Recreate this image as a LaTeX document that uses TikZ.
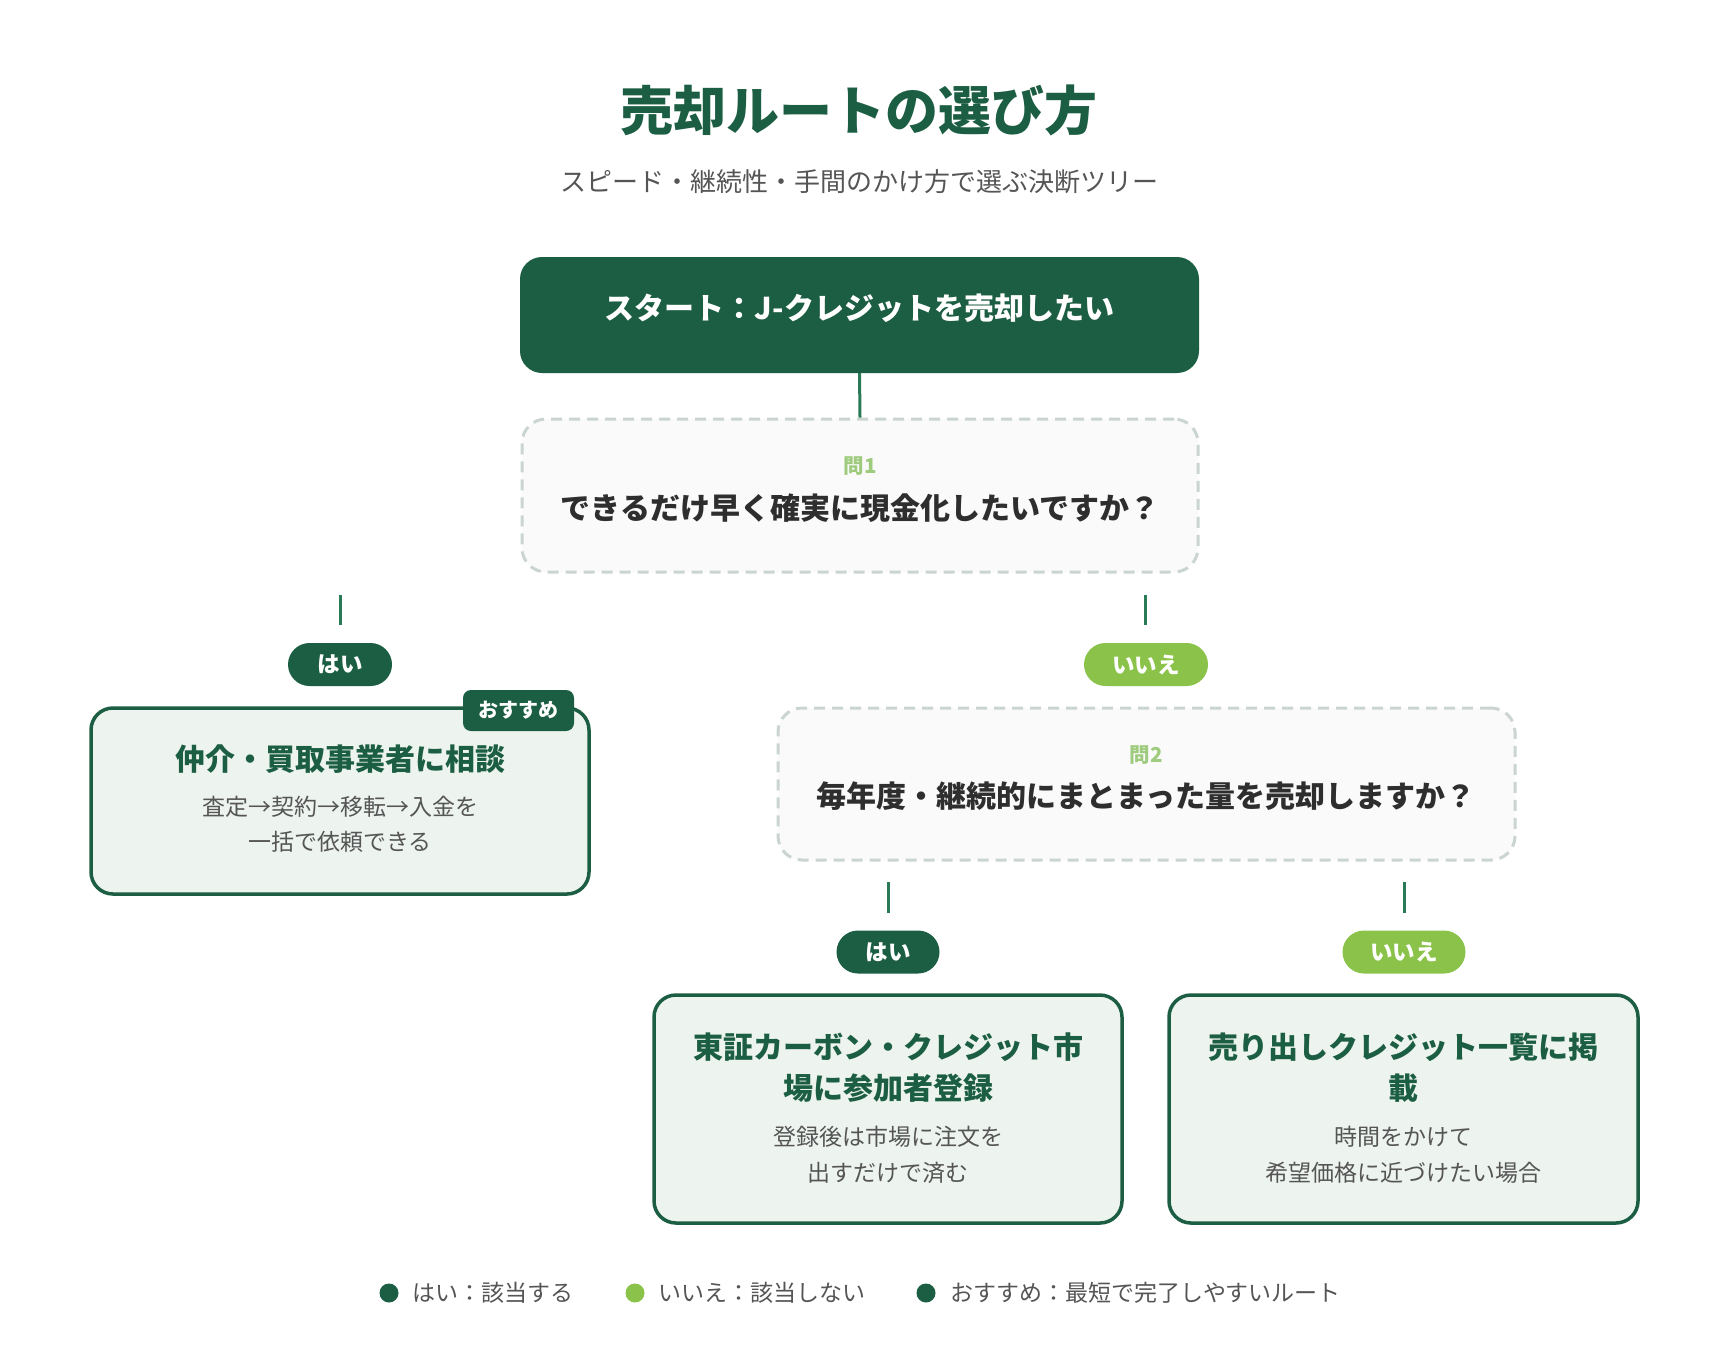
\documentclass[tikz,border=0pt]{standalone}
\usepackage{fontspec}
\setmainfont{Noto Sans CJK JP}
\usetikzlibrary{calc}
\definecolor{dg}{HTML}{1C5E43}
\definecolor{lg}{HTML}{8BC34A}
\definecolor{qlab}{HTML}{9FCB7E}
\definecolor{fillg}{HTML}{EDF3EF}
\definecolor{dashc}{HTML}{CBD5D0}
\definecolor{qfill}{HTML}{FAFAFA}
\definecolor{txt}{HTML}{2E2E2E}
\definecolor{subc}{HTML}{555555}
\definecolor{conn}{HTML}{2A7A57}
\newcommand{\fs}[1]{\fontsize{#1}{#1}\selectfont}
\tikzset{
  startbox/.style={draw=none, fill=dg, rounded corners=22pt, inner sep=0pt},
  qbox/.style={draw=dashc, fill=qfill, line width=3pt, dash pattern=on 11pt off 7pt, rounded corners=24pt, inner sep=0pt},
  resbox/.style={draw=dg, fill=fillg, line width=3.5pt, rounded corners=22pt, inner sep=0pt},
  badge/.style={fill=dg, rounded corners=8pt, inner sep=0pt, minimum width=111pt, minimum height=41pt, text=white, font=\fs{20}\bfseries},
  yespill/.style={fill=dg, rounded corners=21.5pt, inner sep=0pt, minimum height=43pt, text=white, font=\fs{22.5}\bfseries},
  nopill/.style={fill=lg, rounded corners=21.5pt, inner sep=0pt, minimum height=43pt, text=white, font=\fs{22.5}\bfseries},
  conline/.style={draw=conn, line width=3pt},
  qlabel/.style={text=qlab, font=\fs{20.5}\bfseries, inner sep=0pt},
  qtext/.style={text=txt, font=\fs{30}\bfseries, inner sep=0pt},
  rtitle/.style={text=dg, font=\fs{30}\bfseries, inner sep=0pt},
  rdesc/.style={text=subc, font=\fs{23}, inner sep=0pt},
  legtext/.style={text=subc, font=\fs{23}, inner sep=0pt, anchor=west},
}
\begin{document}
\begin{tikzpicture}[x=1pt,y=-1pt]
\fill[white] (0,0) rectangle (1720,1366);
\useasboundingbox (0,0) rectangle (1720,1366);

% title
\node[text=dg, font=\fs{53}\bfseries, inner sep=0pt] (title) at (859,110) {売却ルートの選び方};
\node[text=subc, font=\fs{26}, inner sep=0pt] (subtitle) at (859,182) {スピード・継続性・手間のかけ方で選ぶ決断ツリー};

% start
\node[startbox, minimum width=679pt, minimum height=116pt] (start) at (859.5,315) {};
\node[text=white, font=\fs{30}\bfseries, inner sep=0pt] (starttext) at (859.5,308) {スタート：J-クレジットを売却したい};

% question 1
\node[qbox, minimum width=676pt, minimum height=153pt] (q1) at (860,495.5) {};
\node[qlabel] (q1lab) at (860,466) {問1};
\node[qtext] (q1text) at (860,508) {できるだけ早く確実に現金化したいですか？};
\draw[conline] (start.south) -- (q1.north);

% branch stubs of q1
\coordinate (s1a) at (340,595);
\coordinate (s1b) at (340,625);
\coordinate (s2a) at (1145,595);
\coordinate (s2b) at (1145,625);
\draw[conline] (s1a) -- (s1b);
\draw[conline] (s2a) -- (s2b);
\node[yespill, minimum width=104pt] (yes1) at (340,664.5) {はい};
\node[nopill, minimum width=124pt] (no1) at (1146,664.5) {いいえ};

% left result
\node[resbox, minimum width=498pt, minimum height=186pt] (res1) at (340,801) {};
\node[badge] (rec) at (518.5,710.5) {おすすめ};
\node[rtitle] (res1t) at (340,759) {仲介・買取事業者に相談};
\node[rdesc] (res1d1) at (340,807) {査定→契約→移転→入金を};
\node[rdesc] (res1d2) at (340,842) {一括で依頼できる};

% question 2
\node[qbox, minimum width=737pt, minimum height=152pt] (q2) at (1146.5,784) {};
\node[qlabel] (q2lab) at (1146,755) {問2};
\node[qtext] (q2text) at (1146,796) {毎年度・継続的にまとまった量を売却しますか？};

% branch stubs of q2
\coordinate (s3a) at (888,882);
\coordinate (s3b) at (888,913);
\coordinate (s4a) at (1404,882);
\coordinate (s4b) at (1404,913);
\draw[conline] (s3a) -- (s3b);
\draw[conline] (s4a) -- (s4b);
\node[yespill, minimum width=103pt] (yes2) at (888,952) {はい};
\node[nopill, minimum width=123pt] (no2) at (1404,952) {いいえ};

% bottom results
\node[resbox, minimum width=468pt, minimum height=228pt] (res2) at (888,1109) {};
\node[rtitle] (res2t1) at (888,1047) {東証カーボン・クレジット市};
\node[rtitle] (res2t2) at (888,1088) {場に参加者登録};
\node[rdesc] (res2d1) at (888,1137) {登録後は市場に注文を};
\node[rdesc] (res2d2) at (888,1173) {出すだけで済む};

\node[resbox, minimum width=469pt, minimum height=228pt] (res3) at (1403.5,1109) {};
\node[rtitle] (res3t1) at (1403.5,1047) {売り出しクレジット一覧に掲};
\node[rtitle] (res3t2) at (1403.5,1088) {載};
\node[rdesc] (res3d1) at (1403.5,1137) {時間をかけて};
\node[rdesc] (res3d2) at (1403.5,1173) {希望価格に近づけたい場合};

% legend
\fill[dg] (389,1293) circle (9.5);
\node[legtext] (leg1) at (412,1293) {はい：該当する};
\fill[lg] (635,1293) circle (9.5);
\node[legtext] (leg2) at (658,1293) {いいえ：該当しない};
\fill[dg] (926,1293) circle (9.5);
\node[legtext] (leg3) at (950,1293) {おすすめ：最短で完了しやすいルート};
\end{tikzpicture}
\end{document}
